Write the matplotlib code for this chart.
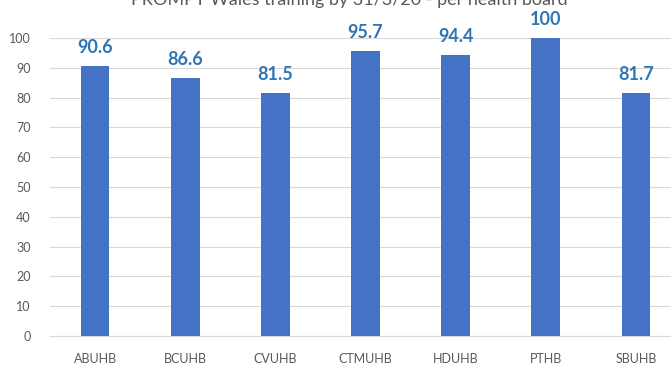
import matplotlib
matplotlib.use('Agg')
import matplotlib.pyplot as plt

# PROMPT Wales training completion (%) per health board
boards = ['ABUHB', 'BCUHB', 'CVUHB', 'CTMUHB', 'HDUHB', 'PTHB', 'SBUHB']
values = [90.6, 86.6, 81.5, 95.7, 94.4, 100, 81.7]
yticks = list(range(0, 101, 10))

plt.rcParams['font.family'] = ['Lato', 'DejaVu Sans']

fig = plt.figure(figsize=(6.71, 3.72), dpi=100)
ax = fig.add_axes([50 / 671, 36 / 372, 631 / 671, 298 / 372])

bars = ax.bar(range(len(boards)), values, width=0.32, color='#4472C4', zorder=3)
ax.bar_label(bars, labels=[f'{v:g}' for v in values], padding=7,
             color='#2E75B6', fontsize=13, fontweight='bold')

ax.set_xlim(-0.5, 6.5)
ax.set_ylim(0, 100)
ax.set_yticks(yticks)
ax.set_xticks(range(len(boards)))
ax.set_xticklabels(boards)
ax.tick_params(axis='both', length=0, colors='#595959', labelsize=9)
ax.tick_params(axis='x', pad=12)
ax.tick_params(axis='y', pad=14)
ax.yaxis.grid(True, color='#D9D9D9', linewidth=0.8, zorder=0)
for side in ['top', 'right', 'left']:
    ax.spines[side].set_visible(False)
ax.spines['bottom'].set_color('#D9D9D9')

# title is mostly cropped off the top, as in the original screenshot
fig.text(0.52, 367 / 372, 'PROMPT Wales training by 31/3/20 - per health board',
         ha='center', va='baseline', fontsize=13, color='#595959')

fig.savefig('out.png', dpi=100)
